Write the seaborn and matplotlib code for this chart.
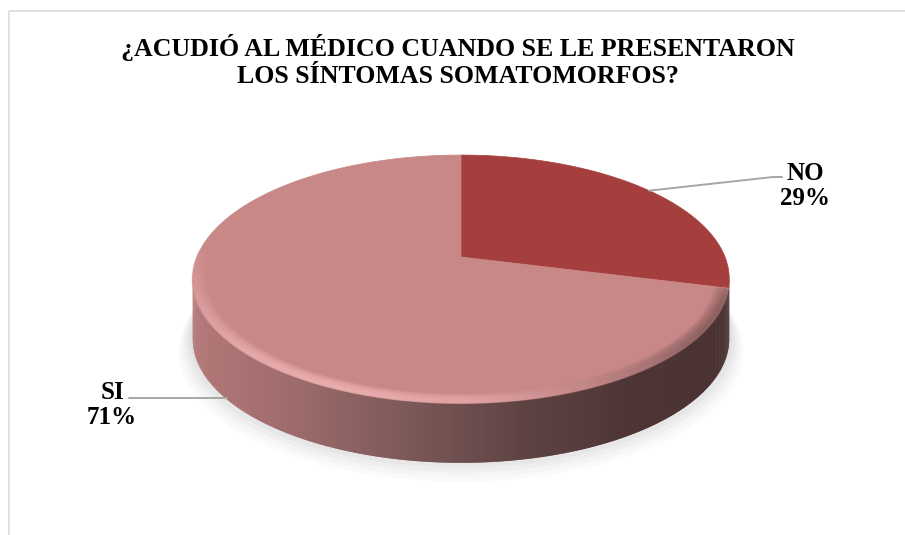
import numpy as np
import matplotlib
matplotlib.use("Agg")
import matplotlib.pyplot as plt
import seaborn as sns
from matplotlib.patches import Polygon, Rectangle
from matplotlib.collections import PolyCollection, LineCollection
from matplotlib.colors import to_rgba

# ---------------- data ----------------
labels = ["NO", "SI"]
values = [29, 71]
top_colors = ["#A43F3D", "#C98888"]
title = "¿ACUDIÓ AL MÉDICO CUANDO SE LE PRESENTARON\nLOS SÍNTOMAS SOMATOMORFOS?"

sns.set_theme(style="white")
plt.rcParams['font.family'] = ['Liberation Serif', 'DejaVu Serif']

W, H = 905, 535
fig = plt.figure(figsize=(W / 100, H / 100), dpi=100)
ax = fig.add_axes([0, 0, 1, 1])
ax.set_xlim(0, W)
ax.set_ylim(H, 0)
ax.axis('off')

# ---------------- 3D pie geometry ----------------
CX, CY = 461, 257      # apex (pie centre) in pixels
SX, SY = 264, 120      # radii
K = 0.177              # perspective factor
DEPTH = 60             # thickness


def proj(theta_deg, r=1.0, dz=0.0):
    t = np.radians(theta_deg)
    u = r * np.cos(t)
    v = r * np.sin(t)
    d = 1 + K * v
    return CX + SX * u / d, CY - SY * v / d + dz


total = float(sum(values))
fracs = [v / total for v in values]
starts, ends = [], []
a = 90.0
for f in fracs:
    starts.append(a)
    a -= f * 360.0
    ends.append(a)

# ---- soft shadow under the pie
tt = np.linspace(0, 360, 361)
for grow, off, al in [(1.05, 16, 0.035), (1.04, 13, 0.045), (1.03, 10, 0.06),
                      (1.02, 7, 0.07), (1.01, 4, 0.08)]:
    xs, ys = proj(tt, r=grow, dz=DEPTH + off - 6)
    ax.add_patch(Polygon(np.column_stack([xs, ys]), closed=True,
                         facecolor="#8C8C8C", edgecolor="none", alpha=al,
                         zorder=1))

# ---- side of the cylinder (visible front part) with shading gradient
t_lim = np.degrees(np.arcsin(-K))           # extreme right of top ellipse
side_t = np.linspace(t_lim + 0.3, -180 - t_lim - 0.3, 300)
side_pal = sns.blend_palette(["#B47878", "#9C6A6A", "#7C5858",
                              "#604444", "#4F3636", "#4A3232"], n_colors=256)
xmin, xmax = CX - SX * 1.02, CX + SX * 1.02
quads, qcols = [], []
for t0, t1 in zip(side_t[:-1], side_t[1:]):
    t1e = t1 - 0.4 * (t0 - t1) / abs(t0 - t1)   # slight overlap, no seams
    x0, y0 = proj(t0)
    x1, y1 = proj(t1e)
    quads.append([(x0, y0 - 2), (x1, y1 - 2), (x1, y1 + DEPTH), (x0, y0 + DEPTH)])
    xm = (x0 + x1) / 2
    idx = int(np.clip((xm - xmin) / (xmax - xmin), 0, 0.999) * 255)
    qcols.append(side_pal[idx])
ax.add_collection(PolyCollection(quads, facecolors=qcols, edgecolors='none',
                                 linewidths=0, zorder=2))

# ---- top faces of the slices
for s, e, c in zip(starts, ends, top_colors):
    ang = np.linspace(s, e, 200)
    xs, ys = proj(ang)
    pts = np.column_stack([np.r_[CX, xs], np.r_[CY, ys]])
    ax.add_patch(Polygon(pts, closed=True, facecolor=c, edgecolor=c,
                         linewidth=0.5, zorder=3))

# ---- smooth bevel highlight / shade along the front rim of the top face
n_rim = 300
rim_t = np.linspace(176, 346, n_rim)
rim_pal = sns.blend_palette(["#D09090", "#DDA0A0", "#E8ABAB", "#EAADAD",
                             "#E0A2A2", "#BC8282", "#8E6262", "#6E4C4C"],
                            n_colors=n_rim - 1)
env = np.sin(np.linspace(0, np.pi, n_rim - 1)) ** 0.3
n_layers = 14
for j in range(n_layers):
    r = 0.952 + j * (0.048 / (n_layers - 1))
    frac = j / (n_layers - 1)
    base_alpha = 0.12 + 0.88 * frac ** 1.1
    if frac > 0.85:                      # darker outer lip toward the side
        base_alpha = 0.75
    xs, ys = proj(rim_t, r=r)
    segs = [[(xs[i], ys[i]), (xs[i + 1], ys[i + 1])] for i in range(n_rim - 1)]
    cols = [to_rgba(c, base_alpha * e) for c, e in zip(rim_pal, env)]
    ax.add_collection(LineCollection(segs, colors=cols, linewidths=1.6,
                                     capstyle='butt', zorder=4))

# ---------------- labels & leader lines ----------------
mid = [(s + e) / 2 for s, e in zip(starts, ends)]
fs = 18
# NO (top face anchor)
ax_, ay_ = proj(mid[0])
ax.plot([ax_, 773, 782], [ay_, 177, 177], color="#A6A6A6", lw=1.4, zorder=5)
ax.text(805, 186, f"{labels[0]}\n{values[0]}%", ha='center', va='center',
        fontsize=fs, fontweight='bold', color='black', linespacing=1.15,
        zorder=6)
# SI (side anchor)
bx_, by_ = proj(mid[1], dz=DEPTH - 1)
ax.plot([bx_, 129], [by_, by_], color="#A6A6A6", lw=1.4, zorder=5)
ax.text(112, 405, f"{labels[1]}\n{values[1]}%", ha='center', va='center',
        fontsize=fs, fontweight='bold', color='black', linespacing=1.15,
        zorder=6)

# ---------------- title ----------------
ax.text(458, 61, title, ha='center', va='center', fontsize=18.6,
        fontweight='bold', color='black', linespacing=1.2, zorder=6)

# ---------------- chart border ----------------
ax.add_patch(Rectangle((8.5, 10.5), 1200, 1200, fill=False,
                       edgecolor="#D9D9D9", linewidth=1.2, zorder=0))

fig.savefig("out.png", dpi=100)
